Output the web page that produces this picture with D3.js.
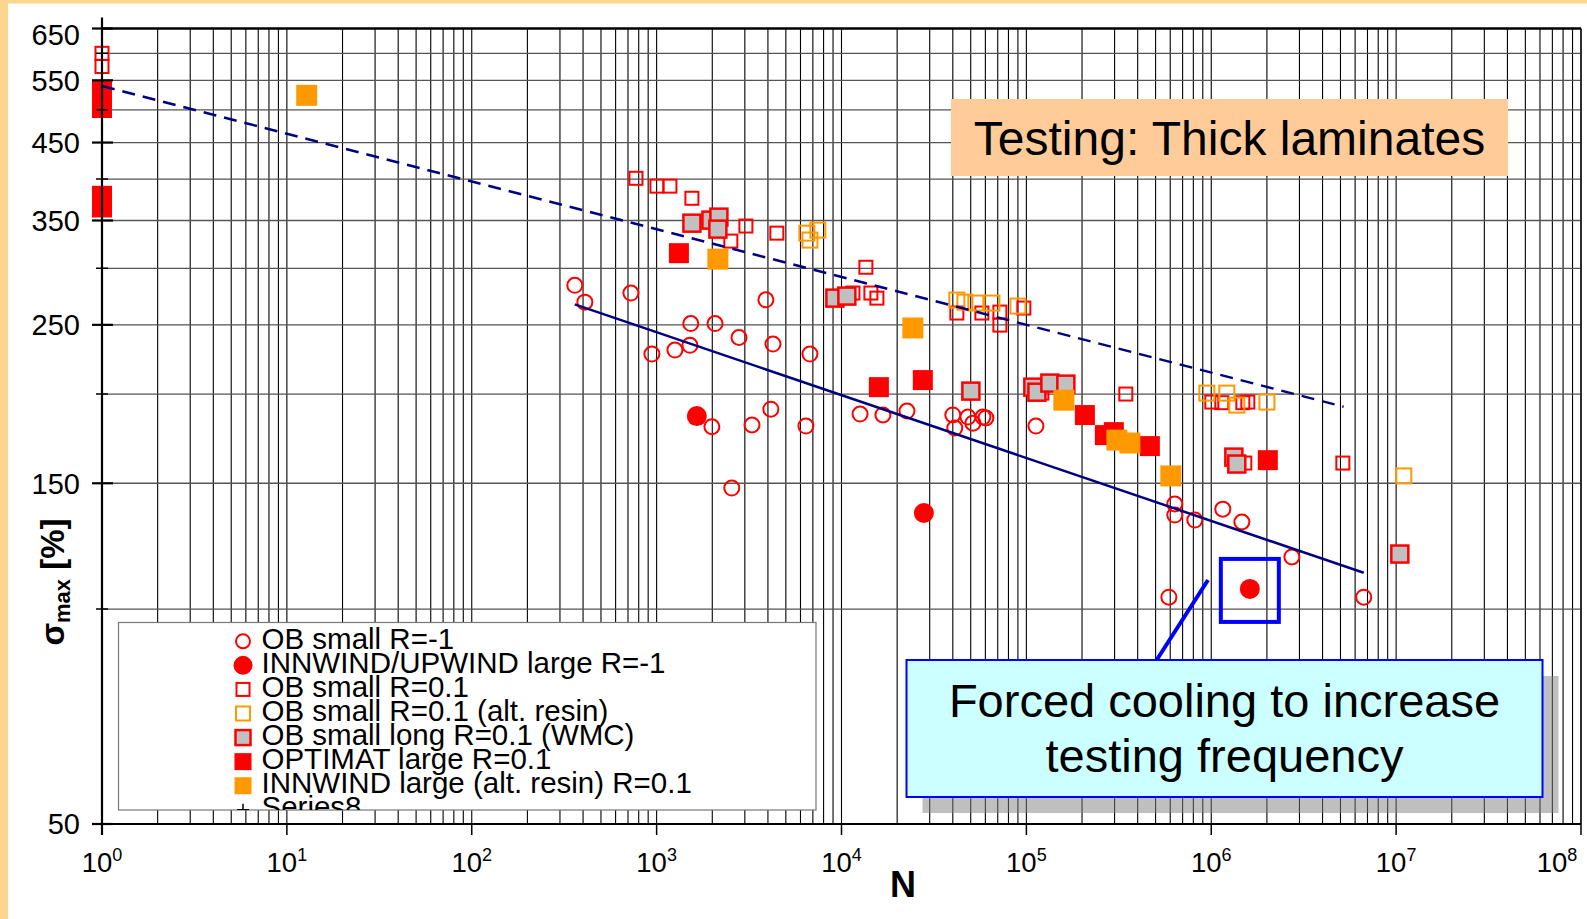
<!DOCTYPE html>
<html>
<head>
<meta charset="utf-8">
<script src="https://cdn.jsdelivr.net/npm/d3@7"></script>
<style>
  html, body { margin: 0; padding: 0; background: #fff; }
  svg { display: block; font-family: "Liberation Sans", Arial, Helvetica, sans-serif; }
</style>
</head>
<body>
<svg id="chart" width="1587" height="919"></svg>
<script>
// ---- data: [N cycles, sigma_max %] ----
const obSmallRm1 = [
  [361,284],[409,269],[726,277],[1530,251],[2070,251],[2790,240],[3900,271],[4260,235],
  [6750,227.5],[943,227.5],[1256,230.5],[1514,234],[1990,180],[3280,181],[4150,190.5],
  [6420,180.4],[2550,147.7],[12600,187.5],[16750,187],[22600,189.3],[40000,187],[41000,179.2],
  [48300,185.7],[51400,182.1],[58200,185.7],[60400,185.2],[112600,180.4],[635000,140.3],
  [635000,135.4],[815000,133.2],[1155000,138],[1464000,132.4],[2730000,118.3],[590000,103.9],
  [6680000,103.9]
];
const innwindLargeRm1 = [[1650,186.3],[27900,136.3],[1617000,106.7]];
const obSmallR01 = [
  [1,600],[1,575],[773,401],[1004,391],[1180,391],[1552,376],[3040,343.8],[4470,336],
  [2520,327.5],[13550,301],[11530,277],[14420,277],[15540,272.5],[42070,259.7],[57440,259.7],
  [71900,260.5],[71900,249.8],[96900,263.9],[121300,200.6],[345000,200],[1007000,194.9],
  [1141000,194.5],[1482000,194.5],[1577000,194.9],[1519000,160.1],[5150000,160.1]
];
const obSmallR01Alt = [
  [6500,336],[7450,339.3],[6750,328.6],[42070,270.8],[46500,269],[53300,268.2],[65100,268.2],
  [90000,265.6],[946500,200.6],[1214000,200.6],[1375000,193],[2000000,194.9],[11000000,153.6]
];
const obSmallLongWMC = [
  [1552,347],[1967,350.4],[2172,353.8],[2145,340.4],[9210,272.5],[10690,274.3],[50100,201.9],
  [108400,204.5],[114000,201.2],[134000,207.2],[163500,206.5],[1325000,163.2],[1375000,159.6],
  [10470000,119.4]
];
const optimatLarge = [
  [1,533],[1,516],[1,503],[1,379],[1,365],[1320,315],[15930,204.5],[27540,209.2],
  [207200,186.9],[265800,175.2],[297200,176.9],[465500,169.1],[2023000,161.6]
];
const innwindLargeAlt = [[12.8,524],[2145,309],[24320,247.5],[159500,196.1],[308700,172.4],[363000,170.8],[604500,153.6]];
const series8 = [[1,100],[1,200],[1,300],[1,400],[1,500],[1,600]];

// fitted trend lines
const trendR01 = [[1,540],[5200000,192]];
const trendRm1 = [[361,267],[6680000,112.4]];

const legendLabels = [
  "OB small R=-1",
  "INNWIND/UPWIND large R=-1",
  "OB small R=0.1",
  "OB small R=0.1 (alt. resin)",
  "OB small long R=0.1 (WMC)",
  "OPTIMAT large R=0.1",
  "INNWIND large (alt. resin) R=0.1",
  "Series8"
];

const xTickExponents = [0,1,2,3,4,5,6,7,8];
const yTickLabels = [50,150,250,350,450,550,650];
const yGridValues = [100,150,200,250,300,350,400,450,500,550,600];
const titleText = "Testing: Thick laminates";
const noteLines = ["Forced cooling to increase", "testing frequency"];
const highlightPoint = innwindLargeRm1[2];

// ---- drawing ----
const W = 1587, H = 919;
const svg = d3.select("#chart");
const ORANGE = "#FF9900", RED = "#FF0000", GREY = "#C0C0C0", NAVY = "#000080", BLUE = "#0000FF";

svg.append("rect").attr("width", W).attr("height", H).attr("fill", "#fff");
svg.append("rect").attr("x", 0).attr("y", 0).attr("width", 8).attr("height", H).attr("fill", "#FDD591");
svg.append("rect").attr("x", 0).attr("y", 0).attr("width", W).attr("height", 3.5).attr("fill", "#FDD591");

const x = d3.scaleLog().domain([1, 1e8]).range([102, 1581]);
const y = d3.scaleLog().domain([50, 650]).range([824, 28.5]);
const [x0, x1] = x.range();
const [yB, yT] = y.range();

// grid
const gridX = d3.range(0, 8).flatMap(k => d3.range(1, 10).map(m => m * Math.pow(10, k))).concat([1e8]).filter(v => v > 1);
svg.append("g").selectAll("line").data(gridX).join("line")
  .attr("x1", d => x(d)).attr("x2", d => x(d)).attr("y1", yT).attr("y2", yB)
  .attr("stroke", "#000").attr("stroke-width", 1.1);
svg.append("g").selectAll("line").data(yGridValues).join("line")
  .attr("x1", x0).attr("x2", x1).attr("y1", d => y(d)).attr("y2", d => y(d))
  .attr("stroke", "#555").attr("stroke-width", 1.3);

// series
const seriesDefs = [
  { data: obSmallRm1,      shape: "circle", size: 7.5, fill: "none", stroke: RED,    sw: 2,   lsize: 7 },
  { data: innwindLargeRm1, shape: "circle", size: 10,  fill: RED,    stroke: "none", sw: 0,   lsize: 9.5 },
  { data: obSmallR01,      shape: "square", size: 13,  fill: "none", stroke: RED,    sw: 2,   lsize: 13 },
  { data: obSmallR01Alt,   shape: "square", size: 15,  fill: "none", stroke: ORANGE, sw: 2,   lsize: 14 },
  { data: obSmallLongWMC,  shape: "square", size: 17,  fill: GREY,   stroke: RED,    sw: 2.5, lsize: 15 },
  { data: optimatLarge,    shape: "square", size: 20,  fill: RED,    stroke: "none", sw: 0,   lsize: 17 },
  { data: innwindLargeAlt, shape: "square", size: 21,  fill: ORANGE, stroke: "none", sw: 0,   lsize: 17 },
  { data: series8,         shape: "plus",   size: 12,  fill: "none", stroke: "#000", sw: 1.5, lsize: 12 }
];

function drawMarker(g, cx, cy, def, size) {
  if (def.shape === "circle") {
    g.append("circle").attr("cx", cx).attr("cy", cy).attr("r", size)
      .attr("fill", def.fill).attr("stroke", def.stroke).attr("stroke-width", def.sw);
  } else if (def.shape === "square") {
    g.append("rect").attr("x", cx - size / 2).attr("y", cy - size / 2).attr("width", size).attr("height", size)
      .attr("fill", def.fill).attr("stroke", def.stroke).attr("stroke-width", def.sw);
  } else {
    g.append("path").attr("d", `M${cx - size / 2},${cy}H${cx + size / 2}M${cx},${cy - size / 2}V${cy + size / 2}`)
      .attr("stroke", def.stroke).attr("stroke-width", def.sw).attr("fill", "none");
  }
}

const gMarks = svg.append("g");
seriesDefs.slice(0, 7).forEach(def => {
  const g = gMarks.append("g");
  def.data.forEach(d => drawMarker(g, x(d[0]), y(d[1]), def, def.size));
});

// trend lines
const line = d3.line().x(d => x(d[0])).y(d => y(d[1]));
svg.append("path").datum(trendR01).attr("d", line).attr("fill", "none")
  .attr("stroke", NAVY).attr("stroke-width", 2.5).attr("stroke-dasharray", "13,8");
svg.append("path").datum(trendRm1).attr("d", line).attr("fill", "none")
  .attr("stroke", NAVY).attr("stroke-width", 2.5);

// axes
const gAx = svg.append("g");
gAx.append("line").attr("x1", x0).attr("x2", x1).attr("y1", yT).attr("y2", yT).attr("stroke", "#000").attr("stroke-width", 2.5);
gAx.append("line").attr("x1", x1).attr("x2", x1).attr("y1", yT).attr("y2", yB).attr("stroke", "#000").attr("stroke-width", 1.2);
gAx.append("line").attr("x1", x0 - 10).attr("x2", x1).attr("y1", yB).attr("y2", yB).attr("stroke", "#000").attr("stroke-width", 2.2);
gAx.append("line").attr("x1", x0).attr("x2", x0).attr("y1", yT - 11).attr("y2", yB + 11).attr("stroke", "#000").attr("stroke-width", 2.2);

// plus markers along N = 1
{
  const g = gAx.append("g");
  series8.forEach(d => drawMarker(g, x(d[0]), y(d[1]), seriesDefs[7], 12));
}

// y ticks + labels
yTickLabels.forEach(v => {
  gAx.append("line").attr("x1", x0 - 10).attr("x2", x0 + 11).attr("y1", y(v)).attr("y2", y(v))
    .attr("stroke", "#000").attr("stroke-width", 2.2);
  gAx.append("text").attr("x", 80).attr("y", Math.max(y(v), 35)).attr("dy", "0.36em")
    .attr("text-anchor", "end").attr("font-size", 29).attr("fill", "#000").text(v);
});

// x ticks + labels
xTickExponents.forEach(e => {
  const v = Math.pow(10, e);
  gAx.append("line").attr("x1", x(v)).attr("x2", x(v)).attr("y1", yB).attr("y2", yB + 11)
    .attr("stroke", "#000").attr("stroke-width", 1.5);
  const t = gAx.append("text").attr("x", Math.min(x(v), 1557)).attr("y", 872)
    .attr("text-anchor", "middle").attr("font-size", 27.5).attr("fill", "#000");
  t.append("tspan").text("10");
  t.append("tspan").attr("dy", -11).attr("font-size", 18).text(e);
});

// axis titles
svg.append("text").attr("x", 903).attr("y", 897).attr("text-anchor", "middle")
  .attr("font-size", 36).attr("font-weight", "bold").text("N");
{
  const t = svg.append("text").attr("transform", "translate(64,582) rotate(-90)")
    .attr("text-anchor", "middle").attr("font-size", 33).attr("font-weight", "bold");
  t.append("tspan").text("σ");
  t.append("tspan").attr("font-size", 22).attr("dy", 6).text("max");
  t.append("tspan").attr("dy", -6).text(" [%]");
}

// legend
{
  const lx = 118.5, ly = 622.5, lw = 697.5, lh = 187.5;
  svg.append("clipPath").attr("id", "legClip").append("rect")
    .attr("x", lx).attr("y", ly).attr("width", lw).attr("height", lh);
  svg.append("rect").attr("x", lx).attr("y", ly).attr("width", lw).attr("height", lh)
    .attr("fill", "#fff").attr("stroke", "#777").attr("stroke-width", 1.2);
  const g = svg.append("g").attr("clip-path", "url(#legClip)");
  legendLabels.forEach((lab, i) => {
    const cy = 641.3 + 24.07 * i;
    drawMarker(g, 243, cy, seriesDefs[i], seriesDefs[i].lsize);
    g.append("text").attr("x", 261.5).attr("y", 649 + 24.07 * i)
      .attr("font-size", 29.5).attr("fill", "#000").text(lab);
  });
}

// title badge
svg.append("rect").attr("x", 951).attr("y", 99).attr("width", 557).attr("height", 77).attr("fill", "#FFCC99");
svg.append("text").attr("x", 1229.5).attr("y", 155).attr("text-anchor", "middle")
  .attr("font-size", 48).attr("fill", "#000").text(titleText);

// highlight box and call-out
{
  const hx = x(highlightPoint[0]), hy = y(highlightPoint[1]);
  svg.append("rect").attr("x", hx - 29).attr("y", hy - 30).attr("width", 58).attr("height", 63)
    .attr("fill", "none").attr("stroke", BLUE).attr("stroke-width", 4);
  svg.append("line").attr("x1", 1156).attr("y1", 661).attr("x2", 1208).attr("y2", 580)
    .attr("stroke", BLUE).attr("stroke-width", 4);

  const bx = 906.5, by = 660, bw = 636, bh = 137, off = 16;
  svg.append("rect").attr("x", bx + off).attr("y", by + off).attr("width", bw).attr("height", bh)
    .attr("fill", "rgba(128,128,128,0.5)");
  const cx = bx + bw / 2;
  svg.append("rect").attr("x", bx).attr("y", by).attr("width", bw).attr("height", bh)
    .attr("fill", "#CCFFFF").attr("stroke", BLUE).attr("stroke-width", 2);
  noteLines.forEach((s, i) => {
    svg.append("text").attr("x", cx).attr("y", 717 + 55 * i).attr("text-anchor", "middle")
      .attr("font-size", 47).attr("fill", "#000").text(s);
  });
}
</script>
</body>
</html>
